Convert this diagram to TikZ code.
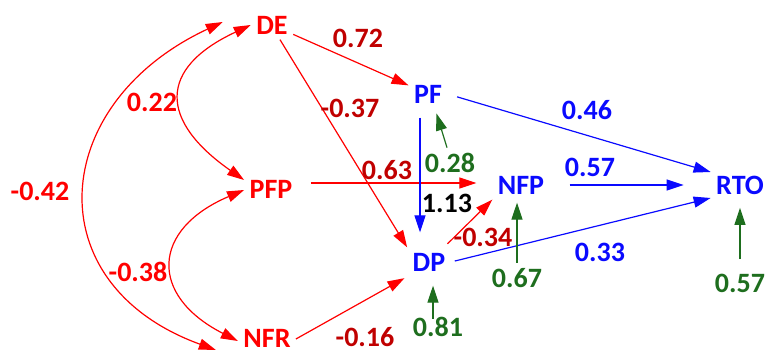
\documentclass[tikz,border=0pt]{standalone}
\usepackage{fontspec}
\setmainfont{Carlito}
\usetikzlibrary{arrows.meta}
\definecolor{darkred}{RGB}{192,0,0}
\definecolor{errgreen}{RGB}{30,110,30}
\definecolor{pathblue}{RGB}{10,10,255}

\begin{document}
\begin{tikzpicture}[x=1pt, y=1pt, > = {Triangle[length=17pt,width=11pt]}, line width=1.2pt,
	every node/.style={inner sep=5pt, font=\fontsize{28}{32}\selectfont\bfseries},
	exo/.style={text=red},
	endo/.style={text=pathblue},
	redpath/.style={red, ->},
	bluepath/.style={pathblue, ->},
	errpath/.style={errgreen, ->},
	cov/.style={red, <->}]
	\useasboundingbox (0,0) rectangle (767,354);

	% variables
	\node[exo] (DE) at (272,329) {DE};
	\node[exo] (PFP) at (271,165) {PFP};
	\node[exo, inner sep=3pt] (NFR) at (267,16) {NFR};
	\node[endo] (PF) at (428,260) {PF};
	\node[endo] (DP) at (429,92) {DP};
	\node[endo] (NFP) at (521,169) {NFP};
	\node[endo] (RTO) at (740,169) {RTO};

	% error terms
	\node[text=errgreen] (e28) at (450,191) {0.28};
	\node[text=errgreen] (e67) at (517,76) {0.67};
	\node[text=errgreen] (e81) at (438,27) {0.81};
	\node[text=errgreen] (e57) at (740,71) {0.57};

	% correlations
	\draw[cov] (DE.west) to[out=205, in=145, looseness=1.7] ([yshift=9pt]PFP.west);
	\draw[cov] ([yshift=-1pt]PFP.west) to[out=203, in=153, looseness=1.7] ([shift={(-2pt,-3pt)}]NFR.west);
	\draw[cov] ([shift={(-28pt,3pt)}]DE.west) to[out=205, in=160, looseness=1.5] ([shift={(-24pt,-12pt)}]NFR.west);
	\node[text=red] (c22) at (152,252) {0.22};
	\node[text=red] (c38) at (138,82) {-0.38};
	\node[text=red] (c42) at (40,163) {-0.42};

	% red paths
	\draw[redpath] (DE) -- (PF);
	\draw[redpath] ([xshift=8pt]DE.south) -- (DP.north west);
	\draw[redpath, shorten <=13pt, shorten >=16pt] ([yshift=6pt]PFP.east) -- ([yshift=2pt]NFP.west);
	\draw[redpath, shorten <=5pt] (DP) -- (NFP.south west);
	\draw[redpath, shorten <=2pt, shorten >=3pt] ([yshift=-2pt]NFR.east) -- (DP.south west);
	\node[text=darkred] (p72) at (358,316) {0.72};
	\node[text=darkred] (p37) at (350,246) {-0.37};
	\node[text=darkred] (p63) at (387,184) {0.63};
	\node[text=darkred] (p34) at (483,117) {-0.34};
	\node[text=darkred] (p16) at (365,17) {-0.16};

	% blue paths
	\draw[bluepath, shorten <=9pt, shorten >=15pt] ([xshift=-8pt]PF.south) -- ([xshift=-9pt]DP.north);
	\draw[bluepath, shorten <=10pt] (PF.east) -- ([yshift=13pt]RTO.west);
	\draw[bluepath, shorten <=20pt, shorten >=27pt] (NFP.east) -- (RTO.west);
	\draw[bluepath, shorten <=4pt] (DP.east) -- ([yshift=-13pt]RTO.west);
	\node (p13) at (447,151) {1.13};
	\node[text=pathblue] (p46) at (587,244) {0.46};
	\node[text=pathblue] (p57) at (590,187) {0.57};
	\node[text=pathblue] (p33) at (600,102) {0.33};

	% error arrows
	\draw[errpath, shorten >=5pt] ([xshift=-3pt]e28.north) -- ([xshift=7pt]PF.south);
	\draw[errpath, shorten >=3pt] (e67.north) -- (e67.north |- NFP.south);
	\draw[errpath, shorten <=-7pt, shorten >=9pt] ([xshift=-5pt]e81.north) -- ([xshift=-5pt]e81.north |- DP.south);
	\draw[errpath, shorten <=9pt, shorten >=8pt] (e57.north) -- (e57.north |- RTO.south);
\end{tikzpicture}
\end{document}
